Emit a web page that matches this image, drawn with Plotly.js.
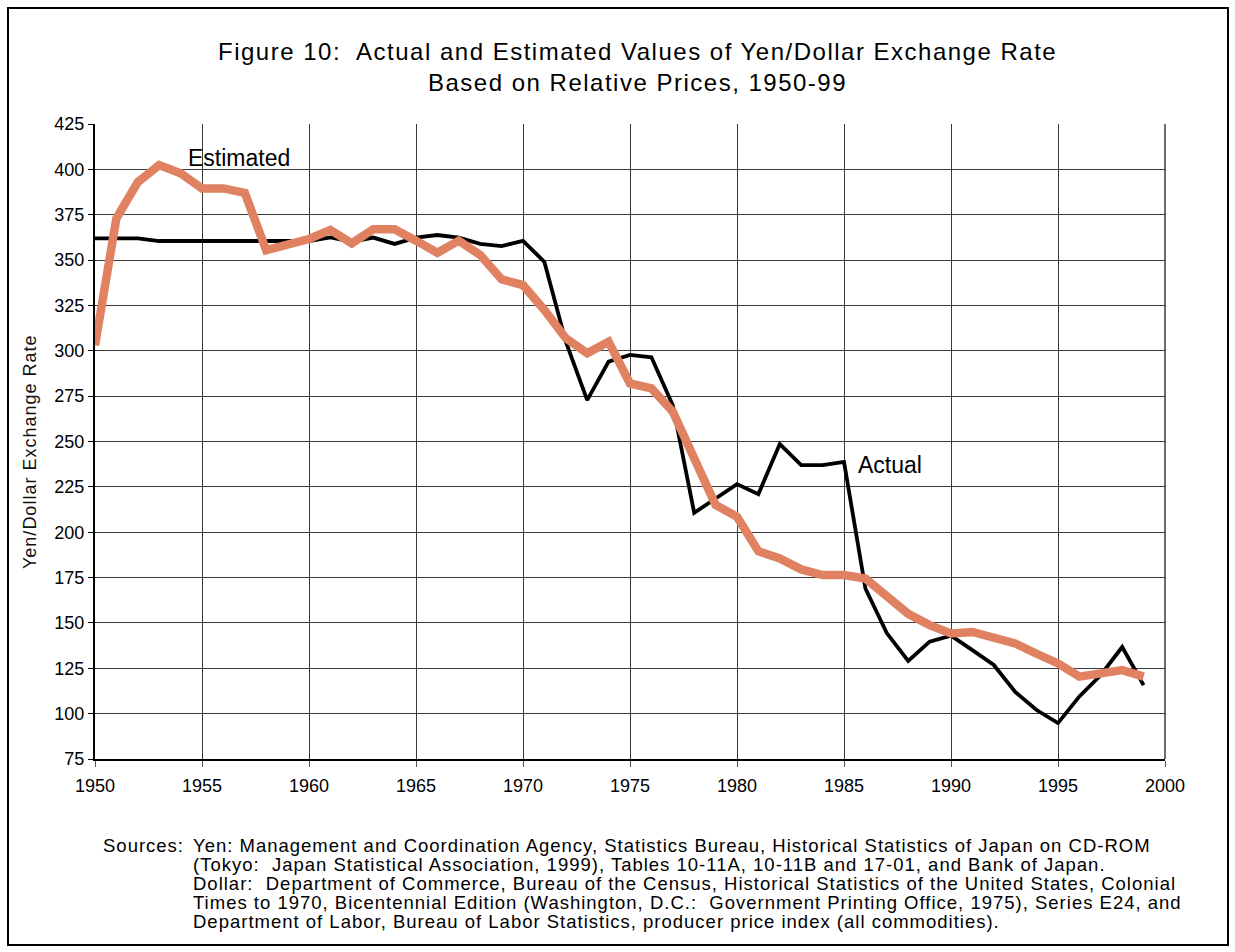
<!DOCTYPE html>
<html>
<head>
<meta charset="utf-8">
<script src="https://cdn.plot.ly/plotly-3.0.1.min.js"></script>
<style>body{margin:0;padding:0;background:#fff}#chart{width:1235px;height:952px}</style>
</head>
<body>
<div id="chart"></div>
<script>
const years = [1950,1951,1952,1953,1954,1955,1956,1957,1958,1959,1960,1961,1962,1963,1964,1965,1966,1967,1968,1969,1970,1971,1972,1973,1974,1975,1976,1977,1978,1979,1980,1981,1982,1983,1984,1985,1986,1987,1988,1989,1990,1991,1992,1993,1994,1995,1996,1997,1998,1999];
const actual = [362,362,362,360.5,360.5,360.5,360.5,360.5,360.5,360.5,360.5,362.5,360,362.4,358.9,362.4,363.8,362.4,358.9,357.7,360.6,349,305,272.8,294,297.7,296.4,270,210.7,218.6,226.5,221,248.6,237,237,238.8,169,144.4,129,139.7,143,135,126.8,112,102,94.8,109.5,121.3,136.7,115.7];
const estimated = [303,373,393,402.4,397.8,389.5,389.5,387,355.5,358,361.6,366.6,359.2,367,367,360.7,354,360.7,352.8,339.4,336.2,322.5,306.9,298.6,305,282,279.3,266.4,240,215,208.5,189.5,185.5,179.5,176.4,176.4,174.5,164.4,155,148.8,144.2,145,142.4,138.7,133,127.7,120.4,122,124,120.4];
const titleLines = ["Figure 10:  Actual and Estimated Values of Yen/Dollar Exchange Rate", "Based on Relative Prices, 1950-99"];
const yTitle = "Yen/Dollar Exchange Rate";
const seriesLabels = ["Actual", "Estimated"];
const sourcesLead = "Sources:";
const sourceLines = [
  "Yen: Management and Coordination Agency, Statistics Bureau, Historical Statistics of Japan on CD-ROM",
  "(Tokyo:  Japan Statistical Association, 1999), Tables 10-11A, 10-11B and 17-01, and Bank of Japan.",
  "Dollar:  Department of Commerce, Bureau of the Census, Historical Statistics of the United States, Colonial",
  "Times to 1970, Bicentennial Edition (Washington, D.C.:  Government Printing Office, 1975), Series E24, and",
  "Department of Labor, Bureau of Labor Statistics, producer price index (all commodities)."
];

const W = 1235, H = 952, L = 95, R = 1165, T = 124, B = 759;
const px = x => (x - L) / (R - L);
const py = y => (B - y) / (B - T);
const font = "Liberation Sans, Arial, sans-serif";
const spaced = (s, ls) => '<span style="letter-spacing:' + ls + 'px">' + s + '</span>';

const traces = [
  {x: years, y: actual, type: 'scatter', mode: 'lines', name: seriesLabels[0],
   line: {color: '#000000', width: 3.8}, hoverinfo: 'x+y'},
  {x: years, y: estimated, type: 'scatter', mode: 'lines', name: seriesLabels[1],
   line: {color: '#E08262', width: 8.5}, hoverinfo: 'x+y'}
];

const annotations = [
  {xref: 'paper', yref: 'paper', x: px(637), y: py(51), text: spaced(titleLines[0], 1.5), showarrow: false,
   font: {family: font, size: 24, color: '#000'}, xanchor: 'center', yanchor: 'middle'},
  {xref: 'paper', yref: 'paper', x: px(637), y: py(82), text: spaced(titleLines[1], 1.5), showarrow: false,
   font: {family: font, size: 24, color: '#000'}, xanchor: 'center', yanchor: 'middle'},
  {xref: 'x', yref: 'y', x: 1956.71, y: 406, text: seriesLabels[1], showarrow: false,
   font: {family: font, size: 23, color: '#000'}, xanchor: 'center', yanchor: 'middle'},
  {xref: 'x', yref: 'y', x: 1987.13, y: 237, text: seriesLabels[0], showarrow: false,
   font: {family: font, size: 23, color: '#000'}, xanchor: 'center', yanchor: 'middle'},
  {xref: 'paper', yref: 'paper', x: px(101), y: py(845), text: spaced(sourcesLead, 1.0), showarrow: false,
   font: {family: font, size: 18.5, color: '#000'}, xanchor: 'left', yanchor: 'middle'},
  {xref: 'paper', yref: 'paper', x: px(30), y: py(452), text: spaced(yTitle, 1), showarrow: false, textangle: -90,
   font: {family: font, size: 18, color: '#111'}, xanchor: 'center', yanchor: 'middle'}
];
const lineY = [845, 864, 883, 902, 921];
sourceLines.forEach((s, i) => {
  annotations.push({xref: 'paper', yref: 'paper', x: px(191), y: py(lineY[i]), text: spaced(s, 1.0), showarrow: false,
    font: {family: font, size: 18.5, color: '#000'}, xanchor: 'left', yanchor: 'middle'});
});

const layout = {
  width: W, height: H,
  margin: {l: L, r: W - R, t: T, b: H - B},
  paper_bgcolor: '#fff', plot_bgcolor: '#fff',
  showlegend: false,
  xaxis: {range: [1950, 2000], dtick: 5, tick0: 1950, showgrid: true, gridcolor: '#3a3a3a', gridwidth: 1,
    showline: true, linecolor: '#000', linewidth: 2, ticks: 'outside', ticklen: 6, tickcolor: '#555',
    ticklabelstandoff: 3,
    tickfont: {family: font, size: 18, color: '#000'}, zeroline: false, mirror: false},
  yaxis: {range: [75, 425], dtick: 25, tick0: 75, showgrid: true, gridcolor: '#3a3a3a', gridwidth: 1,
    showline: true, linecolor: '#000', linewidth: 2, ticks: 'outside', ticklen: 5, tickcolor: '#000',
    tickfont: {family: font, size: 18, color: '#000'}, zeroline: false},
  annotations: annotations,
  shapes: [
    {type: 'rect', xref: 'paper', yref: 'paper', x0: px(8), x1: px(1228), y0: py(945), y1: py(8),
     line: {color: '#000', width: 2}, fillcolor: 'rgba(0,0,0,0)', layer: 'above'},
    {type: 'line', xref: 'paper', yref: 'paper', x0: 1, x1: 1, y0: 0, y1: 1,
     line: {color: '#3a3a3a', width: 1.5}}
  ]
};

Plotly.newPlot('chart', traces, layout, {displayModeBar: false, staticPlot: true});
</script>
</body>
</html>
